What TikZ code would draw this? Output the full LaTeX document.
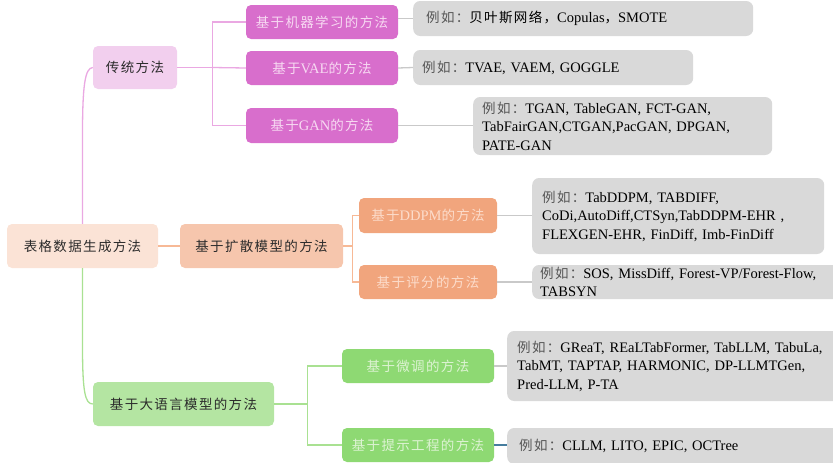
\documentclass[tikz,border=0pt]{standalone}
\usepackage{fontspec}
\setmainfont{Liberation Serif}
\newfontfamily\zhfont[LetterSpace=10]{Noto Sans CJK SC}
\newcommand{\zh}[1]{{\zhfont\fontsize{13.5}{18.5}\selectfont #1}}
\definecolor{rootfill}{HTML}{FBE3D6}
\definecolor{tradfill}{HTML}{F2CFEE}
\definecolor{difffill}{HTML}{F6C6AD}
\definecolor{llmfill}{HTML}{B4E5A2}
\definecolor{magfill}{HTML}{D86ECC}
\definecolor{magtext}{HTML}{F7D9F2}
\definecolor{orfill}{HTML}{F1A57D}
\definecolor{ortext}{HTML}{FCDCCB}
\definecolor{grfill}{HTML}{8ED973}
\definecolor{grtext}{HTML}{DDF3D3}
\definecolor{leaffill}{HTML}{D9D9D9}
\definecolor{pinkln}{HTML}{EAA8E2}
\definecolor{orln}{HTML}{F7B996}
\definecolor{grln}{HTML}{A9E192}
\definecolor{grayln}{HTML}{C9C9C9}
\definecolor{blueln}{HTML}{467D9E}
\definecolor{txt}{HTML}{2B2B2B}
\definecolor{egtxt}{HTML}{555555}
\tikzset{
  box/.style={rounded corners=5pt, inner sep=0pt, align=center,
    font=\fontsize{14.5}{18.5}\selectfont},
  lvlone/.style={box, text=txt},
  lvltwo/.style={box},
  leaf/.style={rounded corners=7pt, fill=leaffill, anchor=west, align=left,
    inner xsep=10pt, inner ysep=0pt, text=black,
    font=\fontsize{14.5}{18.5}\selectfont},
  conn/.style={line width=1.3pt},
}
\newcommand{\eg}{{\color{egtxt}\zh{例如：}}}
\begin{document}
\begin{tikzpicture}[x=1pt,y=-1pt]
\useasboundingbox (0,0) rectangle (833,463);
\clip (0,0) rectangle (833,463);
% level 0 / 1
\node[lvlone, fill=rootfill, minimum width=151, minimum height=44] (root) at (82.5,246) {\zh{表格数据生成方法}};
\node[lvlone, fill=tradfill, minimum width=84, minimum height=43] (trad) at (135,67.5) {\zh{传统方法}};
\node[lvlone, fill=difffill, minimum width=163, minimum height=44] (diff) at (261.5,246) {\zh{基于扩散模型的方法}};
\node[lvlone, fill=llmfill, minimum width=181, minimum height=44] (llm) at (183.5,404) {\zh{基于大语言模型的方法}};
% level 2
\node[lvltwo, fill=magfill, text=magtext, minimum width=152, minimum height=34] (ml) at (322,22) {\zh{基于机器学习的方法}};
\node[lvltwo, fill=magfill, text=magtext, minimum width=152, minimum height=34] (vae) at (322,68) {\zh{基于}VAE\zh{的方法}};
\node[lvltwo, fill=magfill, text=magtext, minimum width=152, minimum height=35] (gan) at (322,125.5) {\zh{基于}GAN\zh{的方法}};
\node[lvltwo, fill=orfill, text=ortext, minimum width=138, minimum height=35] (ddpm) at (428,215.5) {\zh{基于}DDPM\zh{的方法}};
\node[lvltwo, fill=orfill, text=ortext, minimum width=138, minimum height=34] (score) at (428,282) {\zh{基于评分的方法}};
\node[lvltwo, fill=grfill, text=grtext, minimum width=152, minimum height=34] (ft) at (418,366) {\zh{基于微调的方法}};
\node[lvltwo, fill=grfill, text=grtext, minimum width=152, minimum height=34] (pe) at (418,445) {\zh{基于提示工程的方法}};
% leaves
\node[leaf, inner xsep=13pt, text width=314, minimum height=35] (l1) at (413,18.5) {\eg\zh{贝叶斯网络，}Copulas\zh{，}SMOTE};
\node[leaf, inner xsep=9pt, text width=262, minimum height=35] (l2) at (413,67.5) {\eg TVAE, VAEM, GOGGLE};
\node[leaf, inner xsep=9pt, text width=281, minimum height=58] (l3) at (473,126) {\eg TGAN, TableGAN, FCT-GAN,\\TabFairGAN,CTGAN,PacGAN, DPGAN,\\PATE-GAN};
\node[leaf, inner xsep=10pt, text width=272, minimum height=76] (l4) at (532,216) {\eg TabDDPM, TABDIFF,\\CoDi,AutoDiff,CTSyn,TabDDPM-EHR ,\\FLEXGEN-EHR, FinDiff, Imb-FinDiff};
\node[leaf, inner xsep=8pt, text width=330, minimum height=34] (l5) at (532,282) {\eg SOS, MissDiff, Forest-VP/Forest-Flow,\\TABSYN};
\node[leaf, inner xsep=10pt, text width=340, minimum height=70] (l6) at (507,366) {\eg GReaT, REaLTabFormer, TabLLM, TabuLa,\\TabMT, TAPTAP, HARMONIC, DP-LLMTGen,\\Pred-LLM, P-TA};
\node[leaf, inner xsep=12pt, text width=336, minimum height=36] (l7) at (507,446) {\eg CLLM, LITO, EPIC, OCTree};
% connectors level 0 -> 1
\draw[conn, pinkln] (root.north) -- (82.5,135) .. controls (82.5,85) and (85,68) .. (trad.west);
\draw[conn, grln] (root.south) -- (82.5,345) .. controls (82.5,392) and (85,404) .. (llm.west);
\draw[conn, orln] (root.east) -- (diff.west);
% level 1 -> 2
\draw[conn, pinkln] (trad.east) -- ++(35,0) coordinate (tj);
\draw[conn, pinkln] (tj) |- (ml.west);
\draw[conn, pinkln] (tj) |- (gan.west);
\draw[conn, pinkln] (tj) -- (vae.west);
\draw[conn, orln] (diff.east) -- ++(9,0) coordinate (dj);
\draw[conn, orln] (dj) |- (ddpm.west);
\draw[conn, orln] (dj) |- (score.west);
\draw[conn, grln] (llm.east) -- ++(33,0) coordinate (lj);
\draw[conn, grln] (lj) |- (ft.west);
\draw[conn, grln] (lj) |- (pe.west);
% level 2 -> leaves
\draw[conn, grayln] (ml.east |- l1.west) -- (l1.west);
\draw[conn, grayln] (vae.east) -- (l2.west);
\draw[conn, grayln] (gan.east) -- (l3.west |- gan.east);
\draw[conn, grayln] (ddpm.east) -- (l4.west |- ddpm.east);
\draw[conn, grayln] (score.east) -- (l5.west);
\draw[conn, grayln] (ft.east) -- (l6.west);
\draw[conn, blueln] (pe.east) -- (l7.west |- pe.east);
\end{tikzpicture}
\end{document}
